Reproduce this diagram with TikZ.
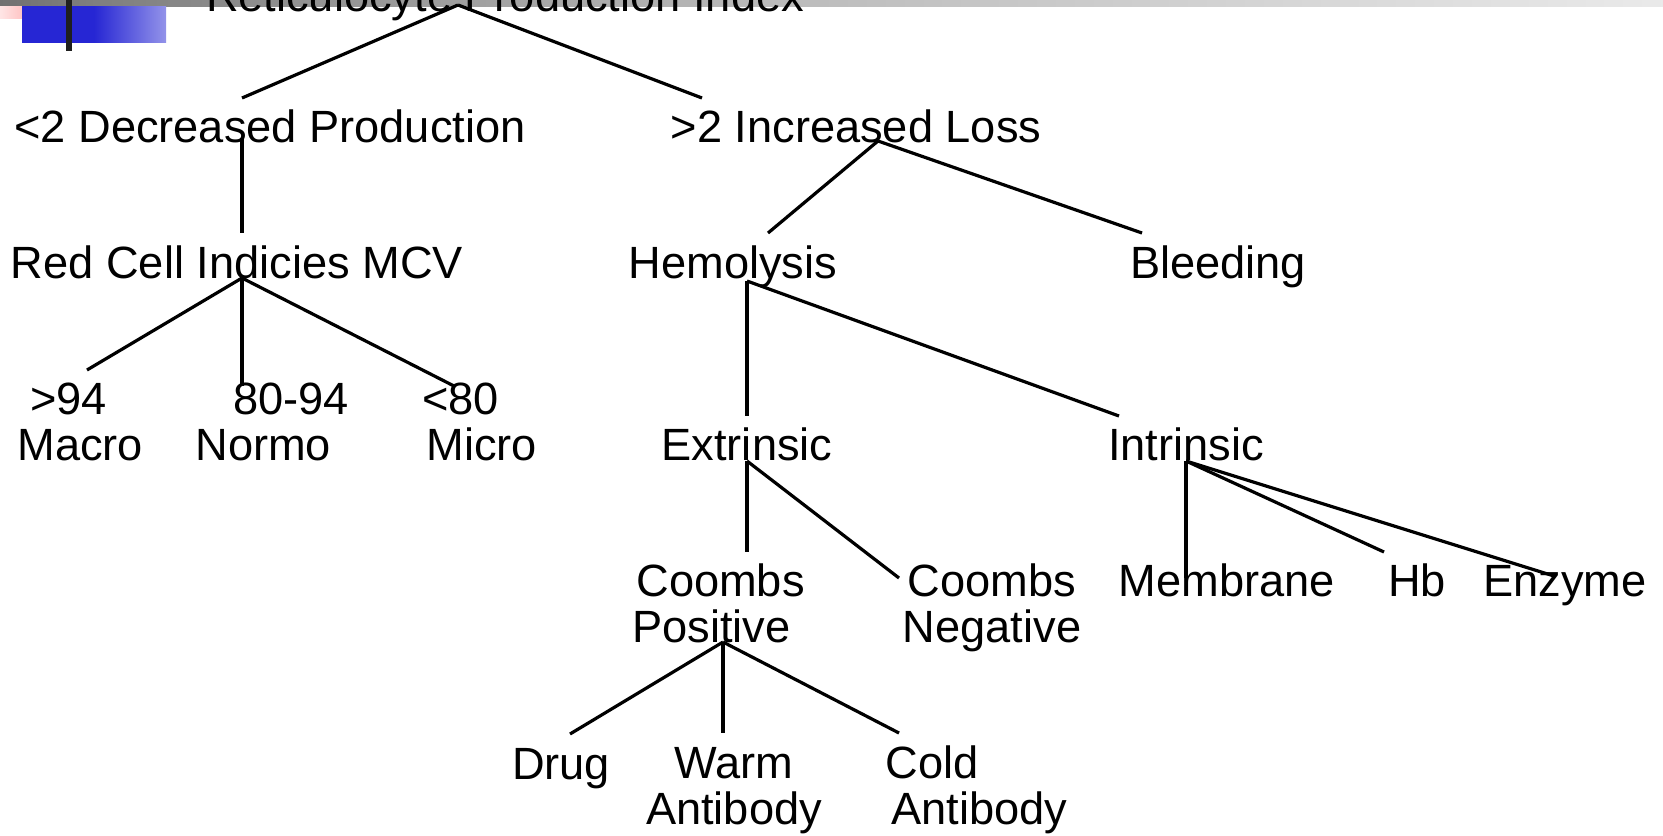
\documentclass[tikz,border=0pt]{standalone}
\usepackage{fontspec}
\setmainfont{Liberation Sans}
\usepackage{tikz}
\usetikzlibrary{calc}
\pgfdeclarehorizontalshading{topbar}{100bp}{color(0bp)=(black!88); color(12bp)=(black!80); color(28bp)=(black!50); color(48bp)=(black!27); color(77bp)=(black!7); color(100bp)=(white)}
\pgfdeclarehorizontalshading{bluefade}{100bp}{color(0bp)=(blue!80!black!85!white); color(50bp)=(blue!80!black!85!white); color(100bp)=(white)}

\begin{document}
\begin{tikzpicture}[x=0.5pt, y=-0.5pt,
    every node/.style = {inner sep=0pt, font=\fontsize{22.6}{23}\selectfont},
    lbl/.style = {anchor=base},
    lblw/.style = {anchor=base west, align=left},
    link/.style = {line width=1.6pt}
  ]
  \useasboundingbox (0,0) rectangle (1663,835);

  \shade[shading=topbar] (0,0) rectangle (1663,6);
  \shade[left color=red!10, right color=red!40] (0,6) rectangle (52,18);
  \shade[shading=bluefade] (22,6) rectangle (166,42);
  \fill[black!88] (66,0) rectangle (72,51);

  \node[lbl] (rpi) at (505,11) {Reticulocyte Production Index};
  \node[lbl] (dec) at (270,142) {<2 Decreased Production};
  \node[lbl] (inc) at (856,142) {>2 Increased Loss};
  \node[lbl] (rci) at (237,278) {Red Cell Indicies MCV};
  \node[lbl] (hem) at (733,278) {Hemolysis};
  \node[lbl] (ble) at (1218,278) {Bleeding};
  \node[lblw] (mac) at (17,460) {\hspace*{6.5pt}>94\\Macro};
  \node[lblw] (nor) at (195,460) {\hspace*{19pt}80-94\\Normo};
  \node[lblw] (mic) at (422,460) {<80\\\hspace*{2pt}Micro};
  \node[lbl] (ext) at (747,460) {Extrinsic};
  \node[lbl] (int) at (1186,460) {Intrinsic};
  \node[lblw] (cpos) at (632,642) {\hspace*{2pt}Coombs\\Positive};
  \node[lbl, align=center] (cneg) at (992,642) {Coombs\\Negative};
  \node[lbl] (mem) at (1227,596) {Membrane};
  \node[lbl] (hb) at (1417,596) {Hb};
  \node[lbl] (enz) at (1565,596) {Enzyme};
  \node[lbl] (drug) at (561,779) {Drug};
  \node[lbl, align=center] (warm) at (734,824) {Warm\\Antibody};
  \node[lblw] (cold) at (885,824) {Cold\\\hspace*{3pt}Antibody};

  \draw[link] ($(rpi.base)+(-47,-6)$) -- ($(dec.base)+(-28,-44)$);
  \draw[link] ($(rpi.base)+(-47,-6)$) -- ($(inc.base)+(-154,-44)$);
  \draw[link] ($(dec.base)+(-28,-4)$) -- ($(rci.base)+(5,-45)$);
  \draw[link] ($(rci.base)+(5,0)$) -- ($(mac.base west)+(70,-90)$);
  \draw[link] ($(rci.base)+(5,0)$) -- ($(nor.base west)+(47,-74)$);
  \draw[link] ($(rci.base)+(5,0)$) -- ($(mic.base west)+(32,-74)$);
  \draw[link] ($(inc.base)+(22,-1)$) -- ($(hem.base)+(35,-45)$);
  \draw[link] ($(inc.base)+(22,-1)$) -- ($(ble.base)+(-76,-45)$);
  \draw[link] ($(hem.base)+(14,3)$) -- ($(ext.base)+(0,-44)$);
  \draw[link] ($(hem.base)+(14,3)$) -- ($(int.base)+(-67,-44)$);
  \draw[link] ($(ext.base)+(0,1)$) -- ($(cpos.base west)+(115,-90)$);
  \draw[link] ($(ext.base)+(0,1)$) -- ($(cneg.base)+(-93,-64)$);
  \draw[link] ($(int.base)+(0,1)$) -- ($(mem.base)+(-41,-18)$);
  \draw[link] ($(int.base)+(0,1)$) -- ($(hb.base)+(-33,-44)$);
  \draw[link] ($(int.base)+(0,1)$) -- ($(enz.base)+(-11,-20)$);
  \draw[link] ($(cpos.base west)+(91,0)$) -- ($(drug.base)+(9,-45)$);
  \draw[link] ($(cpos.base west)+(91,0)$) -- ($(warm.base)+(-11,-91)$);
  \draw[link] ($(cpos.base west)+(91,0)$) -- ($(cold.base west)+(14,-91)$);
\end{tikzpicture}
\end{document}
